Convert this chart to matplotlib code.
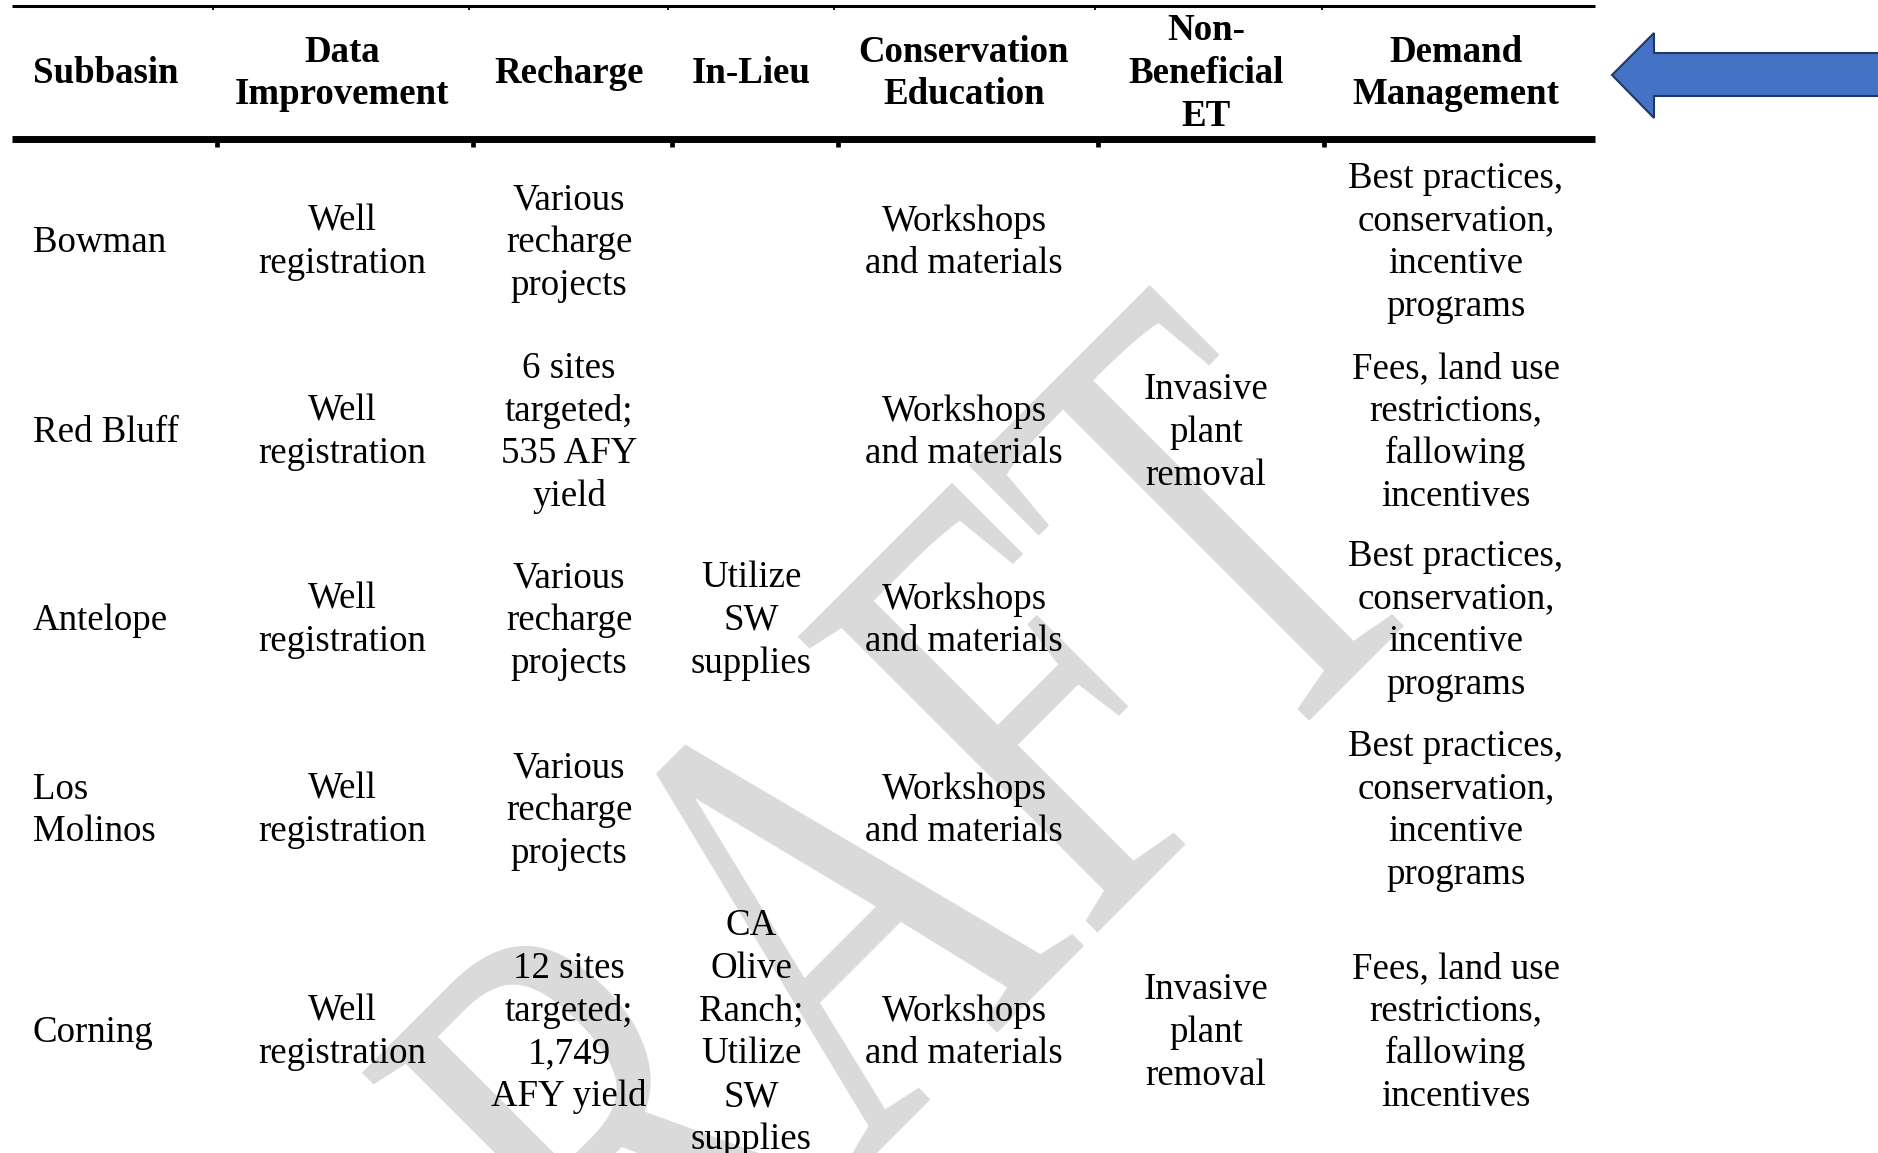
import matplotlib
matplotlib.use("Agg")
import matplotlib.pyplot as plt
from matplotlib.patches import Polygon
from matplotlib.patheffects import AbstractPathEffect
from matplotlib.transforms import Affine2D

# table content
headers = ["Subbasin", "Data\nImprovement", "Recharge", "In-Lieu",
           "Conservation\nEducation", "Non-\nBeneficial\nET", "Demand\nManagement"]
subbasins = ["Bowman", "Red Bluff", "Antelope", "Los\nMolinos", "Corning"]
data_improvement = ["Well\nregistration"] * 5
recharge = ["Various\nrecharge\nprojects",
            "6 sites\ntargeted;\n535 AFY\nyield",
            "Various\nrecharge\nprojects",
            "Various\nrecharge\nprojects",
            "12 sites\ntargeted;\n1,749\nAFY yield"]
in_lieu = ["", "", "Utilize\nSW\nsupplies", "",
           "CA\nOlive\nRanch;\nUtilize\nSW\nsupplies"]
conservation = ["Workshops\nand materials"] * 5
non_beneficial = ["", "Invasive\nplant\nremoval", "", "", "Invasive\nplant\nremoval"]
demand = ["Best practices,\nconservation,\nincentive\nprograms",
          "Fees, land use\nrestrictions,\nfallowing\nincentives",
          "Best practices,\nconservation,\nincentive\nprograms",
          "Best practices,\nconservation,\nincentive\nprograms",
          "Fees, land use\nrestrictions,\nfallowing\nincentives"]
watermark = "DRAFT"

columns = [subbasins, data_improvement, recharge, in_lieu,
           conservation, non_beneficial, demand]

# layout (pixels, origin top-left)
W, H = 1878, 1153
col_x = [33, 342, 569, 751, 964, 1206, 1456]
row_y = [240, 430, 618, 808, 1030]
header_y = 71
line_h = 42.8
base_off = 12
top_ticks = [213, 469, 668, 834, 1095, 1322]
mid_ticks = [217, 473, 672, 838, 1098, 1324]
fs = 26.6
serif = "Liberation Serif"


class Squeeze(AbstractPathEffect):
    # narrow the glyphs along the baseline, like a stretched Word watermark
    def __init__(self, sx):
        super().__init__()
        self.sx = sx

    def draw_path(self, renderer, gc, tpath, affine, rgbFace=None):
        renderer.draw_path(gc, tpath, Affine2D().scale(self.sx, 1) + affine, rgbFace)


fig = plt.figure(figsize=(W / 100, H / 100), dpi=100)
ax = fig.add_axes([0, 0, 1, 1])
ax.set_xlim(0, W)
ax.set_ylim(H, 0)
ax.axis("off")

# watermark
ax.text(424, 1606, watermark, family=serif, fontsize=463, color="#dadada",
        rotation=45, rotation_mode="anchor", ha="left", va="baseline",
        zorder=0, path_effects=[Squeeze(0.69)])


def cell(x, yc, txt, bold=False, ha="center"):
    lines = txt.split("\n")
    n = len(lines)
    for i, s in enumerate(lines):
        y = yc + base_off + (i - (n - 1) / 2) * line_h
        ax.text(x, y, s, family=serif, fontsize=fs, ha=ha, va="baseline",
                fontweight="bold" if bold else "normal", color="black", zorder=3)


for j, h in enumerate(headers):
    cell(col_x[j], header_y, h, bold=True, ha="left" if j == 0 else "center")

for j, col in enumerate(columns):
    for i, txt in enumerate(col):
        if txt:
            cell(col_x[j], row_y[i], txt, ha="left" if j == 0 else "center")

# rules
ax.plot([12, 1595], [5.5, 5.5], color="black", lw=2.2, solid_capstyle="butt", zorder=2)
ax.plot([12, 1595], [138.5, 138.5], color="black", lw=5.0, solid_capstyle="butt", zorder=2)
for x in top_ticks:
    ax.plot([x, x], [6, 9.5], color="black", lw=1.3, solid_capstyle="butt", zorder=2)
for x in mid_ticks:
    ax.plot([x, x], [140, 146.5], color="black", lw=3.4, solid_capstyle="butt", zorder=2)

# blue arrow pointing at the header
arrow = Polygon([(1612, 75), (1654, 33), (1654, 53), (W + 5, 53), (W + 5, 96),
                 (1654, 96), (1654, 118)], closed=True,
                facecolor="#4472C4", edgecolor="#1F3864", lw=1.5, zorder=2)
ax.add_patch(arrow)

fig.savefig("out.png", dpi=100)
